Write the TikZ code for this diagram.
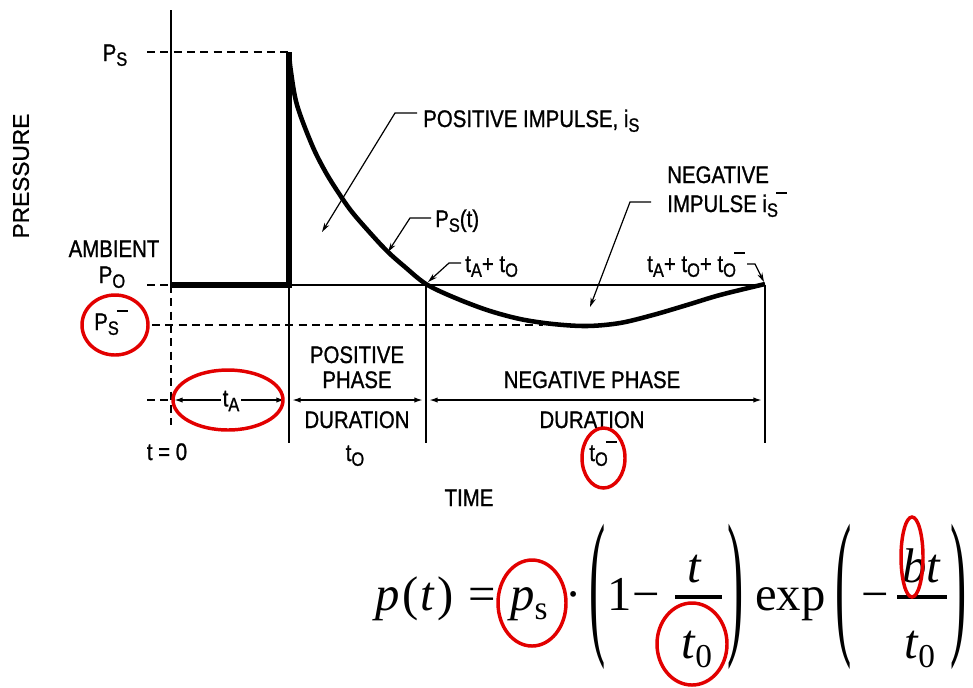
\documentclass[tikz,border=0pt]{standalone}
\usepackage{graphicx}
\usepackage{fontspec}
\setmainfont[FakeStretch=0.85,FakeBold=1]{Liberation Sans}
\newfontfamily\widesans[FakeBold=1]{Liberation Sans}
\newfontfamily\ser{Liberation Serif}
\usetikzlibrary{arrows.meta}
\definecolor{markred}{RGB}{226,0,0}
\newcommand\sbs[1]{\raisebox{-0.2em}{\fontsize{14.5}{15}\selectfont #1}}
\newcommand\sbbar[1]{\sbs{#1}\kern-0.08em\raisebox{0.74em}{\rule{0.45em}{0.08em}}}
\newcommand\fsub[1]{\raisebox{-0.2em}{\fontsize{25}{26}\selectfont #1}}
\begin{document}
\begin{tikzpicture}[x=0.75pt,y=-0.75pt,
  lbl/.style={font=\fontsize{18}{20}\selectfont, inner sep=0pt},
  gridline/.style={line width=1.6pt},
  heavy/.style={line width=3.8pt},
  curveline/.style={line width=3.4pt, line join=round},
  dashline/.style={line width=1.5pt, dash pattern=on 6pt off 4pt},
  dimline/.style={line width=1.2pt, {Latex[length=6.5pt,width=4pt]}-{Latex[length=6.5pt,width=4pt]}},
  leader/.style={line width=0.9pt, -{Stealth[length=7pt,width=4pt]}},
  ring/.style={draw=markred, line width=2.6pt},
  fx/.style={font=\ser\fontsize{36.5}{38}\selectfont, inner sep=0pt},
  fracbar/.style={line width=3pt}
]
\path[use as bounding box] (0,0) rectangle (973,687);

% key coordinates
\coordinate (ytop) at (171,10);
\coordinate (o) at (171,285);
\coordinate (tz) at (171,425);
\coordinate (psL) at (147,52);
\coordinate (psR) at (289,52);
\coordinate (poL) at (147,285);
\coordinate (p1) at (289,285);
\coordinate (p1b) at (289,443);
\coordinate (p2) at (426,285);
\coordinate (p2b) at (426,443);
\coordinate (p3) at (765,285);
\coordinate (p3b) at (765,443);
\coordinate (nsL) at (152,325);
\coordinate (nsR) at (543,325);
\coordinate (dL) at (147,400);
\coordinate (d0) at (171,400);
\coordinate (a1) at (174,400);
\coordinate (a2) at (285,400);
\coordinate (b1) at (292,400);
\coordinate (b2) at (423,400);
\coordinate (c1) at (429,400);
\coordinate (c2) at (762,400);

% axes and grid
\draw[gridline] (ytop) -- (o);
\draw[dashline] (o) -- (tz);
\draw[gridline] (p1) -- (p3);
\draw[gridline] (p1) -- (p1b);
\draw[gridline] (p2) -- (p2b);
\draw[gridline] (p3) -- (p3b);
\draw[dashline] (psL) -- (psR);
\draw[dashline] (poL) -- (o);
\draw[dashline] (nsL) -- (nsR);
\draw[dashline] (dL) -- (d0);

% pressure history
\draw[heavy] (o) -- (p1) -- (psR);
\draw[curveline] plot[smooth, tension=0.55] coordinates {(289,53) (291,72) (297,105) (312,145) (325,171) (338,192) (352,212) (372,235) (388,252) (405,267) (426,284) (453,297) (487,310) (520,319) (553,324) (587,326) (620,323) (653,315) (687,305) (720,295) (765,284)};

% dimension arrows
\draw[dimline] (a1) -- (a2);
\draw[dimline] (b1) -- (b2);
\draw[dimline] (c1) -- (c2);
\node[lbl, fill=white, inner xsep=1.5pt] (tA) at (231,401) {t\sbs{A}};

% left labels
\node[lbl, anchor=base] (Ps) at (115,61) {P\sbs{S}};
\node[lbl, anchor=base] (amb) at (114,257) {AMBIENT};
\node[lbl, anchor=base] (Po) at (112,283) {P\sbs{O}};
\node[lbl, anchor=base] (Psn) at (111,330) {P\sbbar{S}};
\node[lbl, anchor=base] (t0lbl) at (167,460) {t = 0};
\node[lbl, font=\widesans\fontsize{17}{19}\selectfont, rotate=90] (press) at (21,176) {PRESSURE};

% phase labels
\node[lbl, anchor=base] (pos1) at (357,363) {POSITIVE};
\node[lbl, anchor=base] (pos2) at (357,388) {PHASE};
\node[lbl, anchor=base] (pos3) at (357,428) {DURATION};
\node[lbl, anchor=base] (pos4) at (355,461) {t\sbs{O}};
\node[lbl, anchor=base] (neg1) at (592,388) {NEGATIVE PHASE};
\node[lbl, anchor=base] (neg2) at (592,428) {DURATION};
\node[lbl, anchor=base] (neg3) at (603,461) {t\sbbar{O}};
\node[lbl, anchor=base] (time) at (469,506) {TIME};

% annotations
\node[lbl, anchor=base west] (posimp) at (423,127) {POSITIVE IMPULSE, i\sbs{S}};
\node[lbl, anchor=base west] (pst) at (435,227) {P\sbs{S}(t)};
\node[lbl, anchor=base west] (tato) at (465,272) {t\sbs{A}+ t\sbs{O}};
\node[lbl, anchor=base west] (negimp1) at (667,183) {NEGATIVE};
\node[lbl, anchor=base west] (negimp2) at (667,212) {IMPULSE i\sbbar{S}};
\node[lbl, anchor=base west] (tatoto) at (647,272) {t\sbs{A}+ t\sbs{O}+ t\sbbar{O}};

\coordinate (L1a) at (417,113); \coordinate (L1b) at (395,113); \coordinate (L1c) at (322,232);
\coordinate (L2a) at (431,218); \coordinate (L2b) at (410,218); \coordinate (L2c) at (388,252);
\coordinate (L3a) at (461,263); \coordinate (L3b) at (449,263); \coordinate (L3c) at (428,282);
\coordinate (L4a) at (651,202); \coordinate (L4b) at (630,202); \coordinate (L4c) at (590,307);
\coordinate (L5a) at (747,264); \coordinate (L5b) at (755,264); \coordinate (L5c) at (764,282);
\draw[leader] (L1a) -- (L1b) -- (L1c);
\draw[leader] (L2a) -- (L2b) -- (L2c);
\draw[leader] (L3a) -- (L3b) -- (L3c);
\draw[leader] (L4a) -- (L4b) -- (L4c);
\draw[leader] (L5a) -- (L5b) -- (L5c);

% formula
\node[fx, anchor=base west] (fpt) at (375,610) {\itshape p\kern0.06em\upshape(\kern0.04em\itshape t\kern0.06em\upshape)};
\node[fx, anchor=base] (feq) at (482,610) {=};
\node[fx, anchor=base west] (fps) at (510,610) {\itshape p\upshape\fsub{s}};
\node[fx, anchor=base] (fdot) at (574,610) {·};
\node[fx] (flp1) at (598,597) {\scalebox{1}[3.3]{(}};
\node[fx, anchor=base] (fone) at (620,610) {1};
\node[fx, anchor=base] (fmi1) at (646,610) {−};
\coordinate (f1L) at (675,597); \coordinate (f1R) at (722,597);
\draw[fracbar] (f1L) -- (f1R);
\node[fx, anchor=base] (fn1) at (694,582) {\itshape t};
\node[fx, anchor=base] (fd1) at (697,658) {\itshape t\upshape\fsub{0}};
\node[fx] (frp1) at (736,597) {\scalebox{1}[3.3]{)}};
\node[fx, anchor=base west] (fexp) at (755,610) {exp};
\node[fx] (flp2) at (844,597) {\scalebox{1}[3.3]{(}};
\node[fx, anchor=base] (fmi2) at (875,610) {−};
\coordinate (f2L) at (897,597); \coordinate (f2R) at (947,597);
\draw[fracbar] (f2L) -- (f2R);
\node[fx, anchor=base] (fn2) at (921,582) {\itshape bt};
\node[fx, anchor=base] (fd2) at (920,658) {\itshape t\upshape\fsub{0}};
\node[fx] (frp2) at (959,597) {\scalebox{1}[3.3]{)}};

% red marks
\draw[ring] (115,325) ellipse [x radius=33, y radius=30];
\draw[ring] (228,400) ellipse [x radius=55, y radius=30];
\draw[ring] (603.5,458) ellipse [x radius=21.5, y radius=30];
\draw[ring] (532,603) ellipse [x radius=34, y radius=43];
\draw[ring] (692,644) ellipse [x radius=35, y radius=41];
\draw[ring] (912,557) ellipse [x radius=11, y radius=40];
\end{tikzpicture}
\end{document}
